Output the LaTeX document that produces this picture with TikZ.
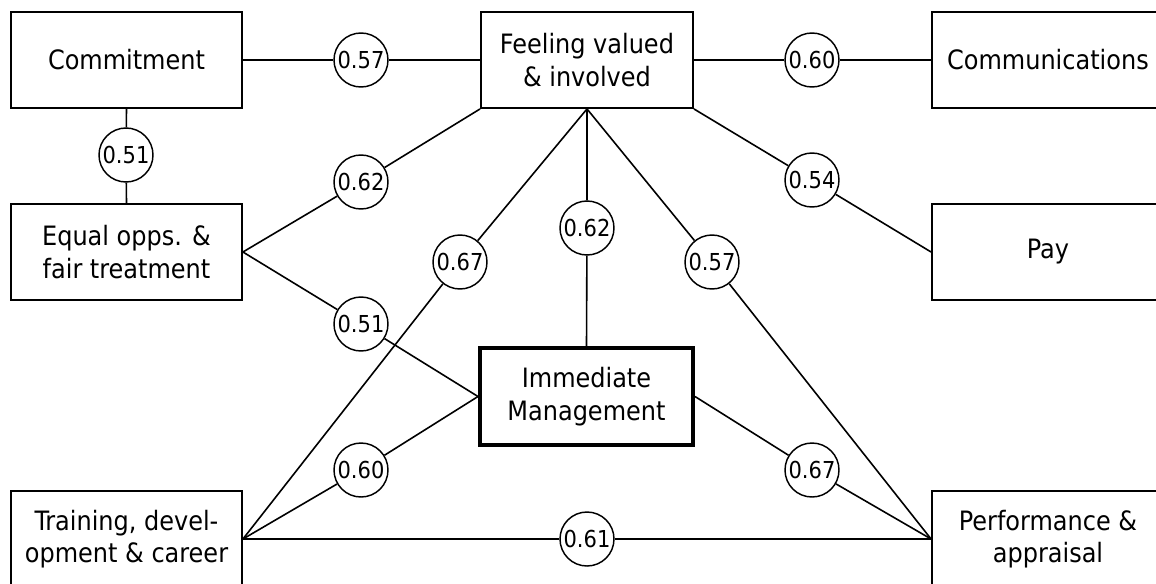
\documentclass[tikz,border=0pt]{standalone}
\usepackage{fontspec}
\setmainfont{DejaVu Sans Condensed}
\begin{document}
\begin{tikzpicture}[x=0.75pt,y=-0.75pt,
  box/.style={draw, line width=1.4pt, minimum width=173.25pt, minimum height=72pt, align=center, inner sep=0pt, font=\fontsize{20}{24.5}\selectfont},
  val/.style={circle, draw, line width=1.1pt, minimum size=40.5pt, inner sep=0pt, fill=white, font=\fontsize{17.5}{19}\selectfont},
  link/.style={line width=1.2pt}]
\useasboundingbox (0,0) rectangle (1156,583);
\clip (0,0) rectangle (1156,583);
% boxes
\node[box] (com) at (126.5,60) {Commitment};
\node[box, minimum width=159pt] (fee) at (587,60) {Feeling valued\\\& involved};
\node[box, minimum width=174pt] (cmm) at (1048,60) {Communications};
\node[box] (equ) at (126.5,252) {Equal opps. \&\\fair treatment};
\node[box, minimum width=174pt] (pay) at (1048,252) {Pay};
\node[box, minimum width=159.75pt, minimum height=72.75pt, line width=3pt] (imm) at (586.5,396.5) {Immediate\\Management};
\node[box] (trn) at (126.5,539) {Training, devel-\\opment \& career};
\node[box, minimum width=174pt] (prf) at (1048,539) {Performance \&\\appraisal};
% values
\node[val] (v1) at (361,60) {0.57};
\node[val] (v2) at (812,60) {0.60};
\node[val] (v3) at (126,155) {0.51};
\node[val] (v4) at (361,182) {0.62};
\node[val] (v5) at (812,180) {0.54};
\node[val] (v6) at (587,228) {0.62};
\node[val] (v7) at (460,262) {0.67};
\node[val] (v8) at (712,262) {0.57};
\node[val] (v9) at (361,324) {0.51};
\node[val] (v10) at (361,470) {0.60};
\node[val] (v11) at (812,470) {0.67};
\node[val] (v12) at (587,539) {0.61};
% links
\draw[link] (com.east) -- (v1) -- (fee.west);
\draw[link] (fee.east) -- (v2) -- (cmm.west);
\draw[link] (com.south) -- (v3) -- (equ.north);
\draw[link] (fee.south west) -- (v4) -- (equ.east);
\draw[link] (fee.south east) -- (v5) -- (pay.west);
\draw[link] (fee.south) -- (v6) -- (imm.north);
\draw[link] (fee.south) -- (v7) -- (trn.east);
\draw[link] (fee.south) -- (v8) -- (prf.west);
\draw[link] (equ.east) -- (v9) -- (imm.west);
\draw[link] (trn.east) -- (v10) -- (imm.west);
\draw[link] (imm.east) -- (v11) -- (prf.west);
\draw[link] (trn.east) -- (v12) -- (prf.west);
\end{tikzpicture}
\end{document}
